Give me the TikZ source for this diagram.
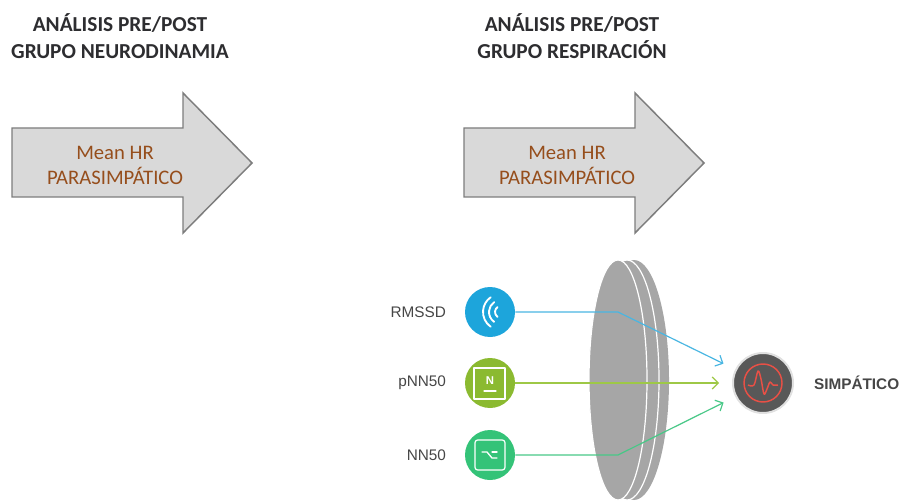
\documentclass[tikz,border=0pt]{standalone}
\usepackage{fontspec}
\setmainfont{Carlito}
\newfontfamily\labelfont{Liberation Sans}
\usetikzlibrary{arrows.meta,positioning}
\definecolor{TitleGray}{RGB}{45, 45, 48}
\definecolor{LabelGray}{RGB}{70, 70, 70}
\definecolor{ArrowFill}{RGB}{217, 217, 217}
\definecolor{ArrowEdge}{RGB}{125, 125, 125}
\definecolor{HRBrown}{RGB}{150, 78, 28}
\definecolor{LensGray}{RGB}{166, 166, 166}
\definecolor{RmBlue}{RGB}{29, 165, 219}
\definecolor{RmLine}{RGB}{73, 182, 226}
\definecolor{PnGreen}{RGB}{139, 186, 48}
\definecolor{PnLine}{RGB}{158, 200, 70}
\definecolor{NnGreen}{RGB}{52, 195, 120}
\definecolor{NnLine}{RGB}{72, 200, 135}
\definecolor{SimpDark}{RGB}{88, 88, 88}
\definecolor{PulseRed}{RGB}{232, 80, 70}

\begin{document}
\begin{tikzpicture}[x=0.75pt, y=-0.75pt,
    title/.style={align=center, text=TitleGray, font=\bfseries\fontsize{16}{20.25}\selectfont},
    hrtext/.style={align=center, text=HRBrown, font=\fontsize{15.5}{18.75}\selectfont},
    dot/.style={circle, minimum size=37.5pt, inner sep=0pt},
    lbl/.style={text=LabelGray, font=\labelfont\fontsize{11.5}{13}\selectfont},
    icon/.style={draw=white, line width=1.1pt, line cap=round, line join=round},
    link/.style={line width=0.9pt, shorten >=9.75pt, -{Straight Barb[length=4.5pt, width=9pt]}}]
  \useasboundingbox (0,0) rectangle (902,502);

  % the two block arrows with their titles
  \foreach \dx/\nm/\grp in {0/neuro/NEURODINAMIA, 452/resp/RESPIRACIÓN} {
    \draw[fill=ArrowFill, draw=ArrowEdge, line width=1.1pt, line join=miter]
      (12+\dx,128) -- (183+\dx,128) -- (183+\dx,93) -- (252+\dx,163)
      -- (183+\dx,233) -- (183+\dx,197) -- (12+\dx,197) -- cycle;
    \node[hrtext] (\nm-hr) at (115+\dx,165) {Mean HR\\PARASIMPÁTICO};
    \node[title] (\nm-title) at (120+\dx,36) {ANÁLISIS PRE/POST\\GRUPO \grp};
  }

  % lens, back rim first
  \fill[LensGray] (634,380) ellipse [x radius=35, y radius=120];
  \filldraw[fill=LensGray, draw=white, line width=0.9pt] (627,380) ellipse [x radius=32, y radius=120];
  \filldraw[fill=LensGray, draw=white, line width=0.9pt] (618,380) ellipse [x radius=29, y radius=120];

  % indicators
  \foreach \nm/\yy/\col/\txt in {rm/312/RmBlue/RMSSD, pn/383/PnGreen/pNN50, nn/455/NnGreen/NN50} {
    \node[dot, fill=\col] (\nm) at (490,\yy) {};
    \node[lbl, left=10.5pt of \nm] (\nm-lbl) {\txt};
  }
  \node[dot, minimum size=45pt, fill=SimpDark, draw=black!12, line width=1.5pt] (simp) at (763,383) {};
  \node[lbl, font=\labelfont\bfseries\fontsize{11.5}{13}\selectfont, right=11.5pt of simp] (simp-lbl) {SIMPÁTICO};

  % icons
  \begin{scope}[shift={(rm.center)}]
    \foreach \r in {6,12,18}
      \draw[icon, line width=1.4pt] (11,0) ++(125:\r) arc[start angle=125, end angle=235, radius=\r];
  \end{scope}
  \begin{scope}[shift={(pn.center)}]
    \draw[icon, line width=0.9pt] (-16,-15) rectangle (15,16);
    \node[text=white, font=\labelfont\bfseries\fontsize{8.5}{8.5}\selectfont] (pn-n) at (0,-2) {N};
    \draw[icon, line width=0.9pt] (-6,8) -- (6,8);
  \end{scope}
  \begin{scope}[shift={(nn.center)}]
    \draw[icon, line width=0.9pt, rounded corners=2pt] (-15,-15) rectangle (15,15);
    \draw[icon, line width=1pt] (-8,-3) -- (-3,-3) -- (2,3) -- (7,3);
    \draw[icon, line width=1pt] (2,-3) -- (7,-3);
  \end{scope}
  \begin{scope}[shift={(simp.center)}]
    \draw[PulseRed, line width=1.1pt] (0,0) circle [radius=19];
    \draw[PulseRed, line width=1.1pt, line join=round]
      plot[smooth, tension=0.55] coordinates {(-15,2) (-9,2) (-5,-12) (-2,-4) (1,11) (4,6) (7,-1) (10,2) (15,2)};
  \end{scope}

  % connectors
  \coordinate (rm-bend) at (618,312);
  \coordinate (nn-bend) at (618,455);
  \draw[link, RmLine] (rm) -- (rm-bend) -- (simp);
  \draw[link, PnLine] (pn) -- (simp);
  \draw[link, NnLine] (nn) -- (nn-bend) -- (simp);
\end{tikzpicture}
\end{document}
